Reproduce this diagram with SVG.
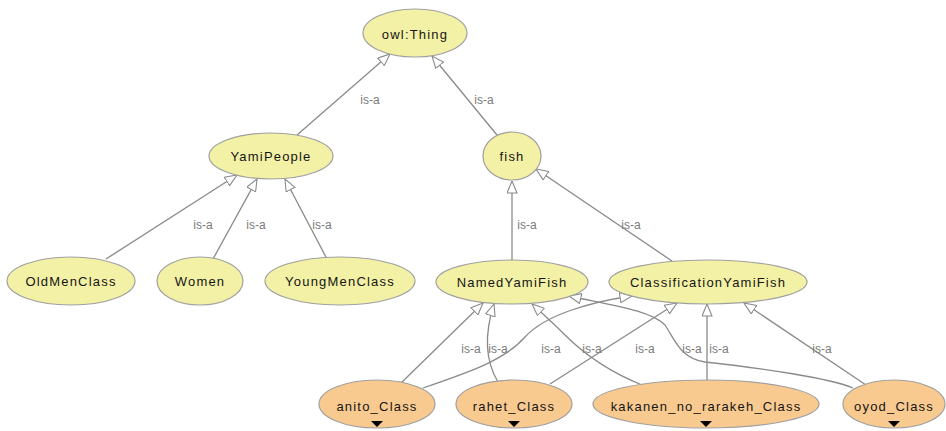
<svg xmlns="http://www.w3.org/2000/svg" width="946" height="431" viewBox="0 0 946 431">
<defs>
<marker id="tri" viewBox="0 0 13 11" refX="12.5" refY="5.5" markerWidth="13" markerHeight="11" markerUnits="userSpaceOnUse" orient="auto">
<path d="M0.5,0.5 L12.5,5.5 L0.5,10.5 Z" fill="#ffffff" stroke="#8a8a8a" stroke-width="1.1"/>
</marker>
</defs>
<style>
.e{fill:none;stroke:#8a8a8a;stroke-width:1.3;marker-end:url(#tri)}
.y{fill:#f3f1a6;stroke:#a0a0a0;stroke-width:1.2}
.o{fill:#f9ca90;stroke:#a0a0a0;stroke-width:1.2}
.t{font-family:"Liberation Sans",Arial,sans-serif;font-size:13px;fill:#151515;text-anchor:middle;letter-spacing:1.2px}
.l{font-family:"Liberation Sans",Arial,sans-serif;font-size:12px;fill:#7a7a7a;text-anchor:middle}
.m{fill:#000}
</style>
<rect width="946" height="431" fill="#ffffff"/>
<g id="connectors">
<path class="e" d="M297,135 L390,54"/>
<path class="e" d="M497,135 L432,56"/>
<path class="e" d="M106,259 L237,175"/>
<path class="e" d="M213,259 L257,179"/>
<path class="e" d="M327,259 L285,179"/>
<path class="e" d="M512,260 L512,181"/>
<path class="e" d="M672,261 L536,169"/>
<path class="e" d="M401,383 L483,303"/>
<path class="e" d="M423,388 C470,372 505,360 525,337 C545,315 590,302 632,296"/>
<path class="e" d="M498,382 C486,362 484,335 494,304"/>
<path class="e" d="M550,384 L677,303"/>
<path class="e" d="M642,385 C605,370 580,350 565,335 C552,322 542,313 532,304"/>
<path class="e" d="M707,383 L707,304"/>
<path class="e" d="M853,388 C830,378 760,368 705,362 C680,358 675,340 665,325 C650,310 610,305 569,296"/>
<path class="e" d="M866,385 L744,303"/>
<text class="l" x="370" y="104">is-a</text>
<text class="l" x="484" y="104">is-a</text>
<text class="l" x="203" y="229">is-a</text>
<text class="l" x="256" y="229">is-a</text>
<text class="l" x="322" y="229">is-a</text>
<text class="l" x="527" y="229">is-a</text>
<text class="l" x="631" y="229">is-a</text>
<text class="l" x="471" y="353">is-a</text>
<text class="l" x="498" y="353">is-a</text>
<text class="l" x="551" y="353">is-a</text>
<text class="l" x="592" y="353">is-a</text>
<text class="l" x="645" y="353">is-a</text>
<text class="l" x="692" y="353">is-a</text>
<text class="l" x="719" y="353">is-a</text>
<text class="l" x="822" y="353">is-a</text>
</g>
<g id="owlThing"><ellipse class="y" cx="415" cy="33" rx="52" ry="24"/><text class="t" x="415" y="39">owl:Thing</text></g>
<g id="YamiPeople"><ellipse class="y" cx="271" cy="156" rx="62" ry="23"/><text class="t" x="271" y="161">YamiPeople</text></g>
<g id="fish"><ellipse class="y" cx="512" cy="156" rx="29" ry="24"/><text class="t" x="512" y="161">fish</text></g>
<g id="OldMenClass"><ellipse class="y" cx="71" cy="281" rx="64" ry="24"/><text class="t" x="71" y="286">OldMenClass</text></g>
<g id="Women"><ellipse class="y" cx="200" cy="281" rx="43" ry="24"/><text class="t" x="200" y="286">Women</text></g>
<g id="YoungMenClass"><ellipse class="y" cx="340" cy="281" rx="75" ry="24"/><text class="t" x="340" y="286">YoungMenClass</text></g>
<g id="NamedYamiFish"><ellipse class="y" cx="512" cy="282" rx="76" ry="22"/><text class="t" x="512" y="287">NamedYamiFish</text></g>
<g id="ClassificationYamiFish"><ellipse class="y" cx="708" cy="282" rx="99" ry="22"/><text class="t" x="708" y="287">ClassificationYamiFish</text></g>
<g id="anito_Class"><ellipse class="o" cx="377" cy="404" rx="58" ry="24"/><text class="t" x="377" y="411">anito_Class</text><polygon class="m" points="371,421 383,421 377,427"/></g>
<g id="rahet_Class"><ellipse class="o" cx="514" cy="404" rx="58" ry="24"/><text class="t" x="514" y="411">rahet_Class</text><polygon class="m" points="508,421 520,421 514,427"/></g>
<g id="kakanen_no_rarakeh_Class"><ellipse class="o" cx="706" cy="404" rx="113" ry="24"/><text class="t" x="706" y="411">kakanen_no_rarakeh_Class</text><polygon class="m" points="700,421 712,421 706,427"/></g>
<g id="oyod_Class"><ellipse class="o" cx="894" cy="404" rx="51" ry="24"/><text class="t" x="894" y="411">oyod_Class</text><polygon class="m" points="888,421 900,421 894,427"/></g>
</svg>
